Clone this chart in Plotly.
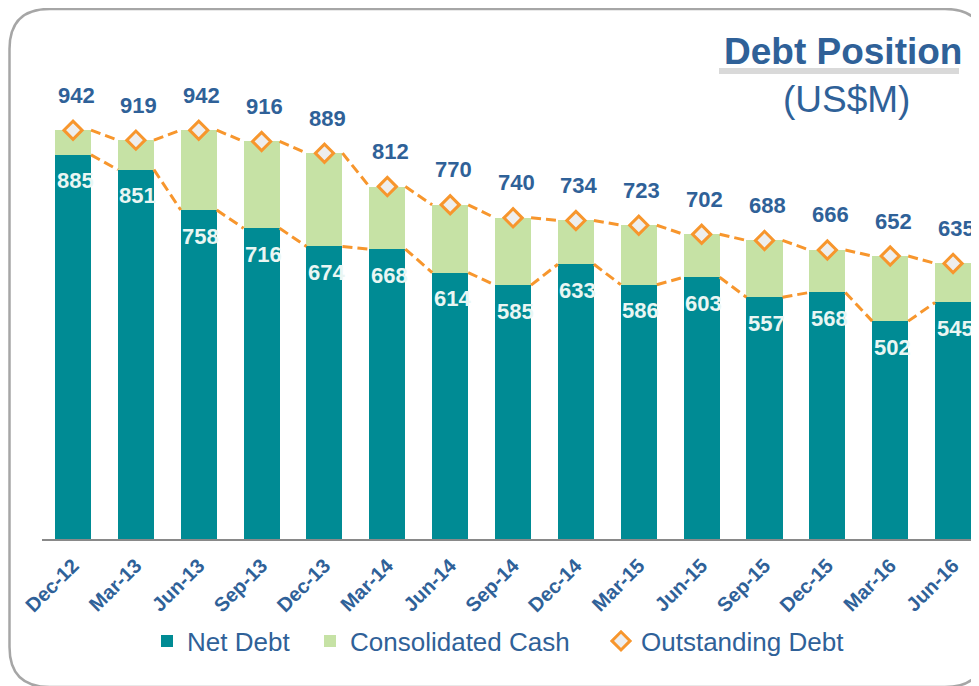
import plotly.graph_objects as go

categories = ["Dec-12", "Mar-13", "Jun-13", "Sep-13", "Dec-13", "Mar-14", "Jun-14", "Sep-14",
              "Dec-14", "Mar-15", "Jun-15", "Sep-15", "Dec-15", "Mar-16", "Jun-16"]
net_debt = [885, 851, 758, 716, 674, 668, 614, 585, 633, 586, 603, 557, 568, 502, 545]
outstanding_debt = [942, 919, 942, 916, 889, 812, 770, 740, 734, 723, 702, 688, 666, 652, 635]
consolidated_cash = [o - n for o, n in zip(outstanding_debt, net_debt)]

W, H = 979, 686
OFF = 8  # page body margin offset
FONT = "Arial, Liberation Sans, sans-serif"
BLUE = "#2f6198"
TEAL = "#008b94"
GREEN = "#c6e2a5"
ORANGE = "#f7962d"
BAR_W = 0.573
PITCH = 62.86          # px per category (screen)
AX_LEFT = 41.6         # screen px of axis start
AX_BOTTOM = 539        # screen px of baseline
PX_PER_UNIT = 0.434

def px(s):
    return (s - OFF) / W

def py(s):
    return 1 - (s - OFF) / H

xs = list(range(len(categories)))

def series_line(tops):
    lx, ly = [], []
    for i in range(len(tops) - 1):
        lx += [i + BAR_W / 2, i + 1 - BAR_W / 2, None]
        ly += [tops[i], tops[i + 1], None]
    return lx, ly

fig = go.Figure()
fig.add_trace(go.Bar(x=xs, y=net_debt, name="Net Debt", marker=dict(color=TEAL, line_width=0),
                     width=BAR_W, legend="legend"))
fig.add_trace(go.Bar(x=xs, y=consolidated_cash, name="Consolidated Cash",
                     marker=dict(color=GREEN, line_width=0), width=BAR_W, legend="legend2"))

for tops in (net_debt, outstanding_debt):
    lx, ly = series_line(tops)
    fig.add_trace(go.Scatter(x=lx, y=ly, mode="lines", showlegend=False, hoverinfo="skip",
                             line=dict(color=ORANGE, width=3, dash="10px,5px")))

fig.add_trace(go.Scatter(x=xs, y=outstanding_debt, mode="markers", name="Outstanding Debt",
                         marker=dict(symbol="diamond", size=14, color="#eeeeee",
                                     line=dict(color=ORANGE, width=3)), legend="legend3"))

annotations = []
for i, v in enumerate(outstanding_debt):
    annotations.append(dict(x=i, y=v, text=f"<b>{v}</b>", showarrow=False, xshift=3, yshift=35,
                            yanchor="middle", font=dict(size=22, color=BLUE, family=FONT)))
for i, v in enumerate(net_debt):
    annotations.append(dict(x=i, y=v, text=f"<b>{v}</b>", showarrow=False, xshift=2, yshift=-26,
                            yanchor="middle", font=dict(size=22, color="#eaf6f3", family=FONT)))

annotations.append(dict(xref="paper", yref="paper", x=px(843), y=py(52), text="<b>Debt Position</b>",
                        showarrow=False, xanchor="center", yanchor="middle",
                        font=dict(size=37, color=BLUE, family=FONT)))
annotations.append(dict(xref="paper", yref="paper", x=px(846), y=py(99), text="(US$M)",
                        showarrow=False, xanchor="center", yanchor="middle",
                        font=dict(size=37, color=BLUE, family=FONT)))

L, T, R, B, RAD = 9.5, 9, 985, 687, 40
path = (f"M {px(L)},{py(T+RAD)} Q {px(L)},{py(T)} {px(L+RAD)},{py(T)} "
        f"L {px(R-RAD)},{py(T)} Q {px(R)},{py(T)} {px(R)},{py(T+RAD)} "
        f"L {px(R)},{py(B-RAD)} Q {px(R)},{py(B)} {px(R-RAD)},{py(B)} "
        f"L {px(L+RAD)},{py(B)} Q {px(L)},{py(B)} {px(L)},{py(B-RAD)} Z")
shapes = [
    dict(type="path", xref="paper", yref="paper", path=path, line=dict(color="#a6a6a6", width=2.5),
         fillcolor="rgba(0,0,0,0)", layer="below"),
    dict(type="line", xref="paper", yref="paper", x0=px(719), x1=px(959), y0=py(71), y1=py(71),
         line=dict(color="#d9d9d9", width=6)),
]

legend_common = dict(orientation="h", yanchor="middle", y=py(641), xanchor="left",
                     font=dict(size=26, color=BLUE, family=FONT), bgcolor="rgba(0,0,0,0)",
                     itemclick=False, itemdoubleclick=False)

x0_fig = AX_LEFT - OFF
range_max = -0.5 + (W - x0_fig) / PITCH
y_range_max = (AX_BOTTOM - OFF) / PX_PER_UNIT

fig.update_layout(
    width=W, height=H,
    margin=dict(l=0, r=0, t=0, b=0, autoexpand=False),
    paper_bgcolor="white", plot_bgcolor="white",
    barmode="stack",
    font=dict(family=FONT, color=BLUE),
    xaxis=dict(domain=[px(AX_LEFT), 1], range=[-0.5, range_max], tickmode="array", tickvals=xs,
               ticktext=[f"<b>{c}</b>" for c in categories], tickangle=-45, automargin=False,
               tickfont=dict(size=20, color=BLUE, family=FONT), showgrid=False, zeroline=False,
               showline=True, linecolor="#898989", linewidth=2, ticks="", ticklabelstandoff=5),
    yaxis=dict(domain=[py(AX_BOTTOM), 1], range=[0, y_range_max], visible=False, showgrid=False,
               automargin=False),
    legend=dict(legend_common, x=px(147)),
    legend2=dict(legend_common, x=px(310)),
    legend3=dict(legend_common, x=px(601)),
    annotations=annotations,
    shapes=shapes,
    showlegend=True,
)

fig.write_html("out.html")
